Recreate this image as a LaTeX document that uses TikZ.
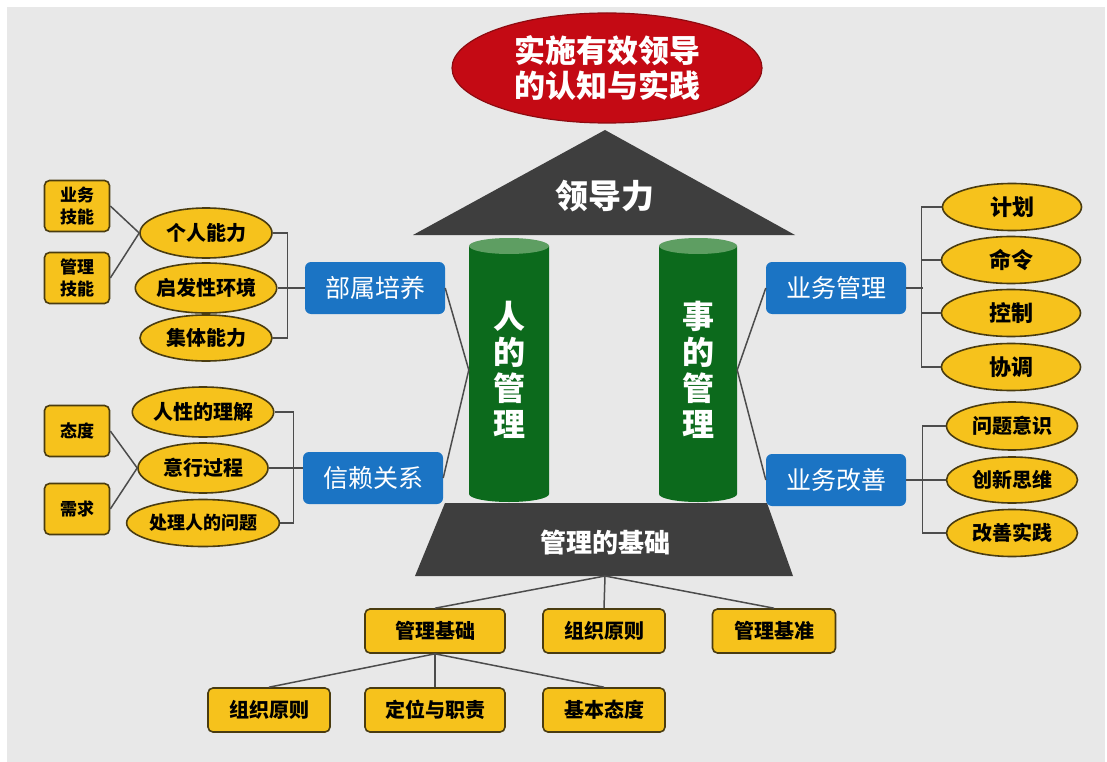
\documentclass[tikz,border=0pt]{standalone}
\usepackage{fontspec}
\setmainfont{Noto Sans CJK SC}
\usetikzlibrary{shapes.geometric}

\definecolor{bgray}{HTML}{E8E8E8}
\definecolor{gold}{HTML}{F6C21C}
\definecolor{goldline}{HTML}{4A3C10}
\definecolor{boxblue}{HTML}{1B74C4}
\definecolor{pillar}{HTML}{0C6A1C}
\definecolor{pillartop}{HTML}{5E9E62}
\definecolor{slate}{HTML}{3E3E3E}
\definecolor{crimson}{HTML}{C40A14}
\definecolor{crimsonedge}{HTML}{8E0A10}
\definecolor{wire}{HTML}{4C4C4C}

\tikzset{
  oval/.style={ellipse, draw=goldline, line width=1.6pt, fill=gold, inner sep=0pt,
    minimum width=132pt, minimum height=50pt, font=\fontsize{20}{24}\selectfont\bfseries},
  tag/.style={rectangle, rounded corners=5pt, draw=goldline, line width=1.6pt, fill=gold,
    inner sep=0pt, minimum height=44pt, font=\fontsize{20}{24}\selectfont\bfseries},
  smalltag/.style={tag, minimum width=65pt, minimum height=51pt, align=center,
    font=\fontsize{17}{22}\selectfont\bfseries},
  bluebox/.style={rectangle, rounded corners=6pt, fill=boxblue, text=white, inner sep=0pt,
    minimum width=140pt, minimum height=52pt, font=\fontsize{25}{30}\selectfont},
  pillarbody/.style={rectangle, inner sep=0pt, minimum height=264pt, align=center,
    text=white, font=\fontsize{32}{36}\selectfont\bfseries},
  wire/.style={draw=wire, line width=1.5pt},
  bracket/.style={draw=wire, line width=1.3pt}
}

\begin{document}
\begin{tikzpicture}[x=1pt, y=-1pt]
  \useasboundingbox (0,0) rectangle (1107,762);
  \fill[white] (0,0) rectangle (1107,762);
  \fill[bgray] (7,7) rectangle (1105,762);

  % title
  \node[ellipse, fill=crimson, draw=crimsonedge, line width=1.2pt, inner sep=0pt,
        minimum width=310pt, minimum height=110pt, align=center, text=white,
        font=\fontsize{31}{35}\selectfont\bfseries] (title) at (607,68)
        {实施有效领导\\的认知与实践};

  % pillars
  \node[pillarbody, minimum width=80pt] (lp) at (509,370) {};
  \node[pillarbody, minimum width=78pt] (rp) at (698,370) {};
  \fill[pillar] (469,246) -- (469,494) arc[start angle=180, end angle=360, x radius=40pt, y radius=8pt] -- (549,246) -- cycle;
  \fill[pillartop] (509,246) ellipse[x radius=40pt, y radius=8pt];
  \fill[pillar] (659,246) -- (659,494) arc[start angle=180, end angle=360, x radius=39pt, y radius=8pt] -- (737,246) -- cycle;
  \fill[pillartop] (698,246) ellipse[x radius=39pt, y radius=8pt];
  \node[pillarbody, minimum width=80pt] at (lp) {人\\的\\管\\理};
  \node[pillarbody, minimum width=78pt] at (rp) {事\\的\\管\\理};

  % roof and foundation
  \fill[slate] (605,130) -- (795,235) -- (413,235) -- cycle;
  \node[text=white, font=\fontsize{33}{36}\selectfont\bfseries] (roof) at (605,196) {领导力};
  \fill[slate] (445,503) -- (767,503) -- (793,576) -- (415,576) -- cycle;
  \node[text=white, font=\fontsize{26}{30}\selectfont\bfseries] (base) at (605,543) {管理的基础};
  \coordinate (basebot) at (605,576);

  % left upper group
  \node[bluebox] (bu) at (375,288) {部属培养};
  \node[oval] (g1) at (206,233) {个人能力};
  \node[oval] (g2) at (206,288) {启发性环境};
  \node[oval, minimum height=46pt] (g3) at (206,338) {集体能力};
  \node[smalltag] (s1) at (77,206) {业务\\技能};
  \node[smalltag] (s2) at (77,278) {管理\\技能};
  \draw[wire] (s1.east) -- (g1.west);
  \draw[wire] (s2.east) -- (g1.west);
  \draw[bracket] (g1.east) -- ++(15,0) |- (g3.east);
  \draw[bracket] (g2.east) -- (bu.west);

  % left lower group
  \node[bluebox] (xl) at (373,478) {信赖关系};
  \node[oval, minimum width=130pt] (h1) at (203,412) {人性的理解};
  \node[oval, minimum width=130pt] (h2) at (203,468) {意行过程};
  \node[oval, minimum width=130pt, minimum height=47pt, font=\fontsize{18}{22}\selectfont\bfseries] (h3) at (203,523) {处理人的问题};
  \node[smalltag] (t1) at (77,431) {态度};
  \node[smalltag] (t2) at (77,509) {需求};
  \draw[wire] (t1.east) -- (h2.west);
  \draw[wire] (t2.east) -- (h2.west);
  \draw[bracket] (h1.east) -- ++(19,0) |- (h3.east);
  \draw[bracket] (h2.east) -- (xl.west |- h2.east);

  % links to the left pillar
  \draw[wire] (bu.east) -- (lp.west);
  \draw[wire] (xl.east) -- (lp.west);

  % right upper group
  \node[bluebox] (yg) at (836,288) {业务管理};
  \node[oval, minimum width=139pt, minimum height=47pt, font=\fontsize{22}{26}\selectfont\bfseries] (r1) at (1012,207) {计划};
  \node[oval, minimum width=139pt, minimum height=47pt, font=\fontsize{22}{26}\selectfont\bfseries] (r2) at (1011,260) {命令};
  \node[oval, minimum width=139pt, minimum height=47pt, font=\fontsize{22}{26}\selectfont\bfseries] (r3) at (1011,313) {控制};
  \node[oval, minimum width=139pt, minimum height=47pt, font=\fontsize{22}{26}\selectfont\bfseries] (r4) at (1011,367) {协调};
  \draw[bracket] (r1.west) -- ++(-20,0) |- (r4.west);
  \draw[bracket] (r2.west) -- ++(-20,0);
  \draw[bracket] (r3.west) -- ++(-20,0);
  \draw[bracket] (yg.east) -- ++(17,0);

  % right lower group
  \node[bluebox] (yc) at (836,480) {业务改善};
  \node[oval, minimum width=131pt, minimum height=48pt] (q1) at (1012,426) {问题意识};
  \node[oval, minimum width=131pt, minimum height=46pt] (q2) at (1012,480) {创新思维};
  \node[oval, minimum width=131pt, minimum height=47pt] (q3) at (1012,533) {改善实践};
  \draw[bracket] (q1.west) -- ++(-23.5,0) |- (q3.west);
  \draw[bracket] (q2.west) -- (yc.east);

  % links to the right pillar
  \draw[wire] (yg.west) -- (rp.east);
  \draw[wire] (yc.west) -- (rp.east);

  % foundation tree
  \node[tag, minimum width=140pt] (mb) at (435,631) {管理基础};
  \node[tag, minimum width=122pt] (zz1) at (604,631) {组织原则};
  \node[tag, minimum width=123pt] (mj) at (774,631) {管理基准};
  \node[tag, minimum width=122pt] (zz2) at (269,710) {组织原则};
  \node[tag, minimum width=140pt] (dw) at (435,710) {定位与职责};
  \node[tag, minimum width=122pt] (jb) at (604,710) {基本态度};
  \draw[wire] (basebot) -- (mb.north);
  \draw[wire] (basebot) -- (zz1.north);
  \draw[wire] (basebot) -- (mj.north);
  \draw[wire] (mb.south) -- (zz2.north);
  \draw[wire] (mb.south) -- (dw.north);
  \draw[wire] (mb.south) -- (jb.north);
\end{tikzpicture}
\end{document}
